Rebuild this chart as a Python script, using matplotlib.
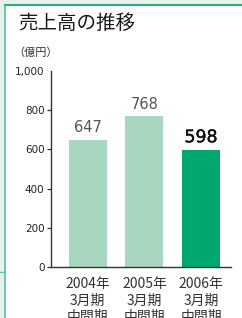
import matplotlib
matplotlib.use("Agg")
import matplotlib.pyplot as plt
import matplotlib.patheffects as pe
from matplotlib.lines import Line2D
from matplotlib.patches import Rectangle

plt.rcParams['font.family'] = ['DejaVu Sans', 'Noto Sans CJK JP']

categories = ["2004年\n3月期\n中間期", "2005年\n3月期\n中間期", "2006年\n3月期\n中間期"]
values = [647, 768, 598]
bar_colors = ["#a9d6bf", "#a9d6bf", "#00a870"]
yticks = [0, 200, 400, 600, 800, 1000]
ytick_labels = ["0", "200", "400", "600", "800", "1,000"]
title = "売上高の推移"
unit = "（億円）"

W, H = 242, 318
fig = plt.figure(figsize=(W / 100, H / 100), dpi=100)
fig.patch.set_facecolor("white")

# frame decoration
fig.add_artist(Rectangle((0, 0), 4 / W, 1, transform=fig.transFigure, color="#e8f1ea", zorder=0))
fig.add_artist(Rectangle((0, 1 - 4 / H), 1, 4 / H, transform=fig.transFigure, color="#e8f1ea", zorder=0))
fig.add_artist(Line2D([4.5 / W, 4.5 / W], [0, 1 - 4.5 / H], transform=fig.transFigure, color="#5ccb9c", lw=1.3, zorder=5))
fig.add_artist(Line2D([4.5 / W, 1], [1 - 5 / H, 1 - 5 / H], transform=fig.transFigure, color="#20b878", lw=1.5, zorder=5))
fig.add_artist(Line2D([0, 4 / W], [1 - 272 / H, 1 - 272 / H], transform=fig.transFigure, color="#5ccb9c", lw=1, zorder=5))

fig.text(18 / W, 1 - 23 / H, title, fontsize=14, family=['Noto Sans CJK JP'], va='center', ha='left', color="#1a1a1a")
fig.text(13 / W, 1 - 53 / H, unit, fontsize=8, family=['Noto Sans CJK JP'], va='center', ha='left', color="#333333")

ax = fig.add_axes([50.7 / W, 51 / H, (231 - 50.7) / W, (267 - 71) / H])
x = list(range(len(values)))
bars = ax.bar(x, values, width=0.67, color=bar_colors)
ax.set_xlim(-0.655, 2.53)
ax.set_ylim(0, 1000)

for spine in ["top", "right"]:
    ax.spines[spine].set_visible(False)
for spine in ["left", "bottom"]:
    ax.spines[spine].set_color("#333333")
    ax.spines[spine].set_linewidth(1.0)

ax.set_yticks(yticks)
ax.set_yticklabels(ytick_labels, fontsize=7.5, color="#222222")
ax.tick_params(axis='y', direction='out', length=3, width=0.9, color="#333333", pad=1.5)
ax.yaxis.get_major_ticks()[-1].tick1line.set_visible(False)
ax.set_yticks([1000], minor=True)
ax.tick_params(axis='y', which='minor', direction='in', length=3, width=0.9, color="#333333")

ax.set_xticks(x)
ax.set_xticklabels(categories, fontsize=10, family=['Noto Sans CJK JP'], linespacing=1.22, color="#333333")
ax.tick_params(axis='x', length=0, pad=7.5)

for i, (xi, v) in enumerate(zip(x, values)):
    if i == 2:
        ax.text(xi, v + 18, str(v), ha='center', va='bottom', fontsize=12.5, color="#111111",
                path_effects=[pe.withStroke(linewidth=0.3, foreground="#111111")])
    else:
        ax.text(xi, v + 25, str(v), ha='center', va='bottom', fontsize=10.5, color="#555555")

fig.savefig("out.png", dpi=100)
